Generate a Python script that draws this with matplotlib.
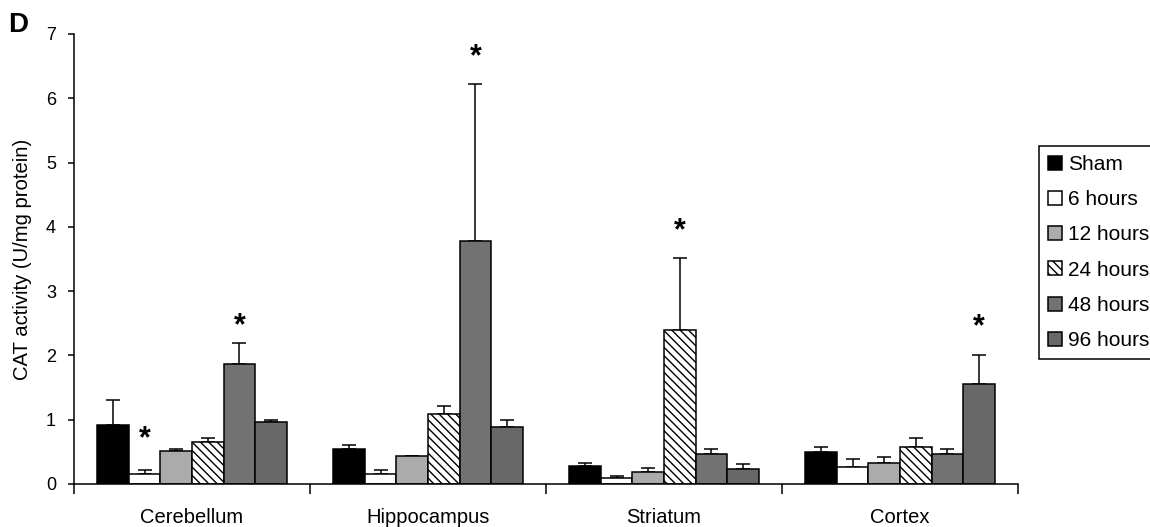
import numpy as np
import matplotlib.pyplot as plt

plt.rcParams['font.family'] = ['Liberation Sans', 'DejaVu Sans']
plt.rcParams['hatch.linewidth'] = 1.0

# CAT activity per brain region (mean and upper error, U/mg protein)
regions = ['Cerebellum', 'Hippocampus', 'Striatum', 'Cortex']
groups = ['Sham', '6 hours', '12 hours', '24 hours', '48 hours', '96 hours']

sham = [0.92, 0.55, 0.28, 0.50]
h6 = [0.16, 0.15, 0.09, 0.27]
h12 = [0.52, 0.44, 0.19, 0.33]
h24 = [0.66, 1.09, 2.39, 0.57]
h48 = [1.86, 3.78, 0.47, 0.47]
h96 = [0.97, 0.88, 0.24, 1.56]

sham_err = [0.38, 0.05, 0.04, 0.08]
h6_err = [0.06, 0.06, 0.03, 0.12]
h12_err = [0.02, 0.00, 0.06, 0.09]
h24_err = [0.05, 0.13, 1.12, 0.14]
h48_err = [0.33, 2.44, 0.08, 0.07]
h96_err = [0.03, 0.12, 0.07, 0.45]

# significance marks: (region, group, height)
stars = [(0, 1, 0.83), (0, 4, 2.59), (1, 4, 6.78), (2, 3, 4.06), (3, 5, 2.58)]

means = [sham, h6, h12, h24, h48, h96]
errs = [sham_err, h6_err, h12_err, h24_err, h48_err, h96_err]
colors = ['black', 'white', '#ababab', 'white', '#727272', '#686868']
hatches = [None, None, None, '\\\\\\\\', None, None]

fig = plt.figure(figsize=(11.5, 5.27), dpi=100)
ax = fig.add_axes([0.0643, 0.0816, 0.8209, 0.8539])

w = 0.134
centers = np.arange(len(regions)) + 0.5
for j, g in enumerate(groups):
    x = centers + (j - 2.5) * w
    ax.bar(x, means[j], w, color=colors[j], edgecolor='black', linewidth=1.1,
           hatch=hatches[j], label=g, zorder=2)
    ax.errorbar(x, means[j], yerr=[np.zeros(len(regions)), errs[j]], fmt='none',
                ecolor='black', elinewidth=1.1, capsize=5, capthick=1.1, zorder=1)

for r, g, y in stars:
    ax.annotate('*', (centers[r] + (g - 2.5) * w, y), xytext=(0, -12),
                textcoords='offset points', ha='center', va='baseline',
                fontsize=22, fontweight='bold')

ax.set_xlim(0, 4)
ax.set_ylim(0, 7)
ax.set_yticks(range(8))
ax.tick_params(axis='y', direction='out', length=4, width=1.1, labelsize=13, pad=9)
ax.set_xticks(range(5))
ax.set_xticklabels([])
ax.tick_params(axis='x', which='major', direction='out', length=7, width=1.1)
ax.set_xticks(centers, minor=True)
ax.set_xticklabels(regions, minor=True)
ax.tick_params(axis='x', which='minor', length=0, pad=17, labelsize=14.5)

ax.spines['top'].set_visible(False)
ax.spines['right'].set_visible(False)
ax.spines['left'].set_linewidth(1.1)
ax.spines['bottom'].set_linewidth(1.1)

ax.set_ylabel('CAT activity (U/mg protein)', fontsize=14.6)
ax.yaxis.set_label_coords(-0.044, 0.5)

leg = fig.legend(loc='upper left', bbox_to_anchor=(0.9035, 0.723), borderaxespad=0,
                 fontsize=15, handlelength=0.65, handleheight=0.65, handletextpad=0.3,
                 labelspacing=0.78, borderpad=0.43, fancybox=False,
                 edgecolor='black', framealpha=1)
leg.get_frame().set_linewidth(1.1)

fig.text(0.007, 1 - 32 / 527, 'D', fontsize=20, fontweight='bold', va='baseline')

fig.savefig('out.png', dpi=100)
